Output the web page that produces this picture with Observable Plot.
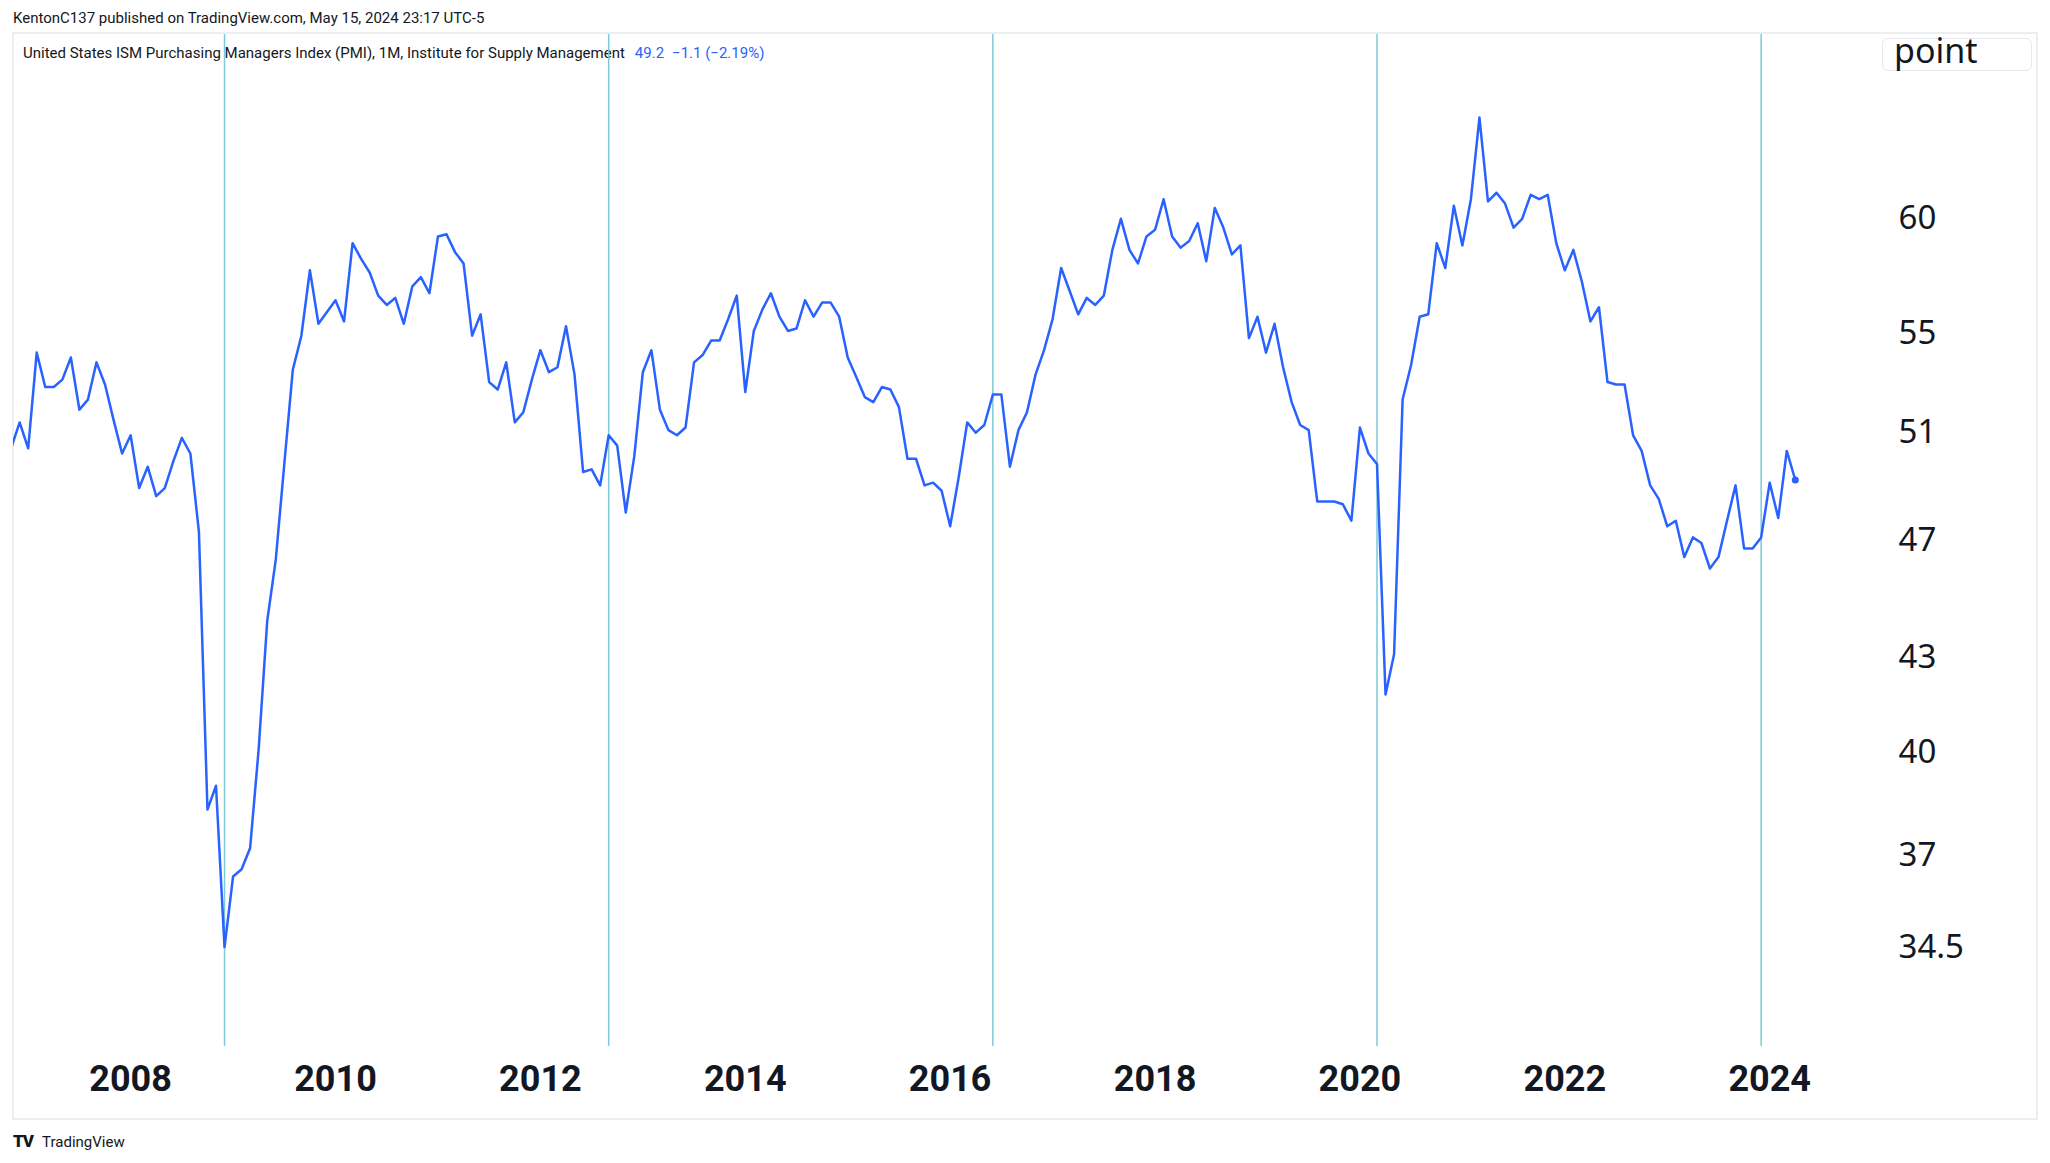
<!DOCTYPE html>
<html>
<head>
<meta charset="utf-8">
<script src="https://cdn.jsdelivr.net/npm/d3@7"></script>
<script src="https://cdn.jsdelivr.net/npm/@observablehq/plot@0.6"></script>
<style>
  html, body { margin: 0; padding: 0; background: #ffffff; }
  body { width: 2050px; height: 1163px; position: relative; overflow: hidden; font-family: Roboto, "Noto Sans", sans-serif; color: #131722; }
  #pub { position: absolute; left: 13px; top: 9px; font-size: 15px; line-height: 18px; white-space: nowrap; }
  #pane { position: absolute; left: 12px; top: 32px; width: 2026px; height: 1088px; border: 2px solid #eceef2; box-sizing: border-box; }
  #legend { position: absolute; left: 23px; top: 44px; font-size: 15px; line-height: 18px; white-space: nowrap; }
  #legend .val { color: #2962ff; margin-left: 10px; }
  #legend .chg { color: #2962ff; margin-left: 8px; }
  #unit { position: absolute; left: 1882px; top: 38px; width: 150px; height: 33px; border: 1px solid #e6e8ee; border-radius: 6px; box-sizing: border-box; background: #fff; }
  #unit span { position: absolute; left: 11px; top: -6px; font-family: "Noto Sans", sans-serif; font-size: 34px; line-height: 34px; color: #131722; }
  #chart { position: absolute; left: 0; top: 0; }
  #logo { position: absolute; left: 13px; top: 1132px; font-size: 15px; line-height: 18px; white-space: nowrap; color: #131722; }
  #logo b { font-weight: 900; font-size: 17px; letter-spacing: -1px; margin-right: 9px; }
</style>
</head>
<body>
<div id="pub">KentonC137 published on TradingView.com, May 15, 2024 23:17 UTC-5</div>
<div id="pane"></div>
<div id="legend"></div>
<div id="unit"><span>point</span></div>
<div id="chart"></div>
<div id="logo"><b>TV</b>TradingView</div>
<script>
// ---- Data (ISM Manufacturing PMI, monthly) ----
const firstYear = 2006, firstMonth = 11;   // series starts Nov 2006
const baseYear = 2008;                     // month index 0 = Jan 2008
const pmi2006 = [50.4, 51.4];
const pmi2007 = [50.4, 54.2, 52.8, 52.8, 53.1, 54.0, 51.9, 52.3, 53.8, 52.9, 51.5, 50.2];
const pmi2008 = [50.9, 48.9, 49.7, 48.6, 48.9, 49.9, 50.8, 50.2, 47.3, 38.3, 39.0, 34.5];
const pmi2009 = [36.4, 36.6, 37.2, 40.1, 44.2, 46.3, 49.8, 53.5, 54.9, 57.7, 55.4, 55.9];
const pmi2010 = [56.4, 55.5, 58.9, 58.2, 57.6, 56.6, 56.2, 56.5, 55.4, 57.0, 57.4, 56.7];
const pmi2011 = [59.2, 59.3, 58.5, 58.0, 54.9, 55.8, 53.0, 52.7, 53.8, 51.4, 51.8, 53.1];
const pmi2012 = [54.3, 53.4, 53.6, 55.3, 53.3, 49.5, 49.6, 49.0, 50.9, 50.5, 48.0, 50.1];
const pmi2013 = [53.4, 54.3, 51.9, 51.1, 50.9, 51.2, 53.8, 54.1, 54.7, 54.7, 55.6, 56.6];
const pmi2014 = [52.6, 55.1, 56.0, 56.7, 55.7, 55.1, 55.2, 56.4, 55.7, 56.3, 56.3, 55.7];
const pmi2015 = [54.0, 53.2, 52.4, 52.2, 52.8, 52.7, 52.0, 50.0, 50.0, 49.0, 49.1, 48.8];
const pmi2016 = [47.5, 49.3, 51.4, 51.0, 51.3, 52.5, 52.5, 49.7, 51.1, 51.8, 53.3, 54.3];
const pmi2017 = [55.6, 57.8, 56.8, 55.8, 56.5, 56.2, 56.6, 58.6, 60.0, 58.6, 58.0, 59.2];
const pmi2018 = [59.5, 60.9, 59.2, 58.7, 59.0, 59.8, 58.1, 60.5, 59.6, 58.4, 58.8, 54.8];
const pmi2019 = [55.7, 54.2, 55.4, 53.6, 52.2, 51.3, 51.1, 48.4, 48.4, 48.4, 48.3, 47.7];
const pmi2020 = [51.2, 50.2, 49.8, 41.8, 43.1, 52.3, 53.7, 55.7, 55.8, 58.9, 57.8, 60.6];
const pmi2021 = [58.8, 60.9, 64.8, 60.8, 61.2, 60.7, 59.6, 60.0, 61.1, 60.9, 61.1, 58.9];
const pmi2022 = [57.7, 58.6, 57.2, 55.5, 56.1, 53.0, 52.9, 52.9, 50.9, 50.3, 49.0, 48.5];
const pmi2023 = [47.5, 47.7, 46.4, 47.1, 46.9, 46.0, 46.4, 47.7, 49.0, 46.7, 46.7, 47.1];
const pmi2024 = [49.1, 47.8, 50.3, 49.2];

const yearLabels = [2008, 2010, 2012, 2014, 2016, 2018, 2020, 2022, 2024];
const priceTicks = [34.5, 37, 40, 43, 47, 51, 55, 60];
const markerMonths = [[2008, 12], [2012, 9], [2016, 6], [2020, 3], [2023, 12]];

const title = "United States ISM Purchasing Managers Index (PMI), 1M, Institute for Supply Management";

// ---- Build tables ----
const monthIndex = (y, mo) => (y - baseYear) * 12 + (mo - 1);
const values = [].concat(pmi2006, pmi2007, pmi2008, pmi2009, pmi2010, pmi2011, pmi2012,
  pmi2013, pmi2014, pmi2015, pmi2016, pmi2017, pmi2018, pmi2019, pmi2020, pmi2021,
  pmi2022, pmi2023, pmi2024);
const start = monthIndex(firstYear, firstMonth);
const rows = values.map((v, i) => ({m: start + i, v}));
const markers = markerMonths.map(([y, mo]) => monthIndex(y, mo));
const yearTicks = yearLabels.map(y => monthIndex(y, 1));

// Legend
const last = values[values.length - 1], prev = values[values.length - 2];
const diff = last - prev, pct = diff / prev * 100;
const fmtSigned = (x, d) => (x < 0 ? "\u2212" : "+") + Math.abs(x).toFixed(d);
document.getElementById("legend").innerHTML =
  `<span>${title}</span><span class="val">${last.toFixed(1)}</span>` +
  `<span class="chg">${fmtSigned(diff, 1)} (${fmtSigned(pct, 2)}%)</span>`;

const chart = Plot.plot({
  width: 2050,
  height: 1163,
  marginLeft: 13,
  marginRight: 13,
  marginTop: 34,
  marginBottom: 117,
  x: {type: "linear", domain: [-13.72, 223.37], axis: null, label: null},
  y: {type: "log", domain: [31.99, 69.02], axis: null, label: null},
  style: {background: "transparent", overflow: "visible"},
  marks: [
    Plot.ruleX(markers, {stroke: "#7ccad8", strokeWidth: 1.5}),
    Plot.line(rows, {x: "m", y: "v", stroke: "#2962ff", strokeWidth: 2.5, clip: true}),
    Plot.dot([rows[rows.length - 1]], {x: "m", y: "v", r: 3.5, fill: "#2962ff"}),
    Plot.axisX(yearTicks, {
      tickSize: 0, tickPadding: 19,
      tickFormat: m => String(baseYear + m / 12),
      fontSize: 36, fontWeight: "bold", fontFamily: "Roboto", color: "#131722"
    }),
    Plot.axisY(priceTicks, {
      anchor: "right", tickSize: 0, tickPadding: 0, dx: -139,
      tickFormat: d => String(d),
      fontSize: 33, fontFamily: "Noto Sans", color: "#131722"
    })
  ]
});
document.getElementById("chart").appendChild(chart);
</script>
</body>
</html>
